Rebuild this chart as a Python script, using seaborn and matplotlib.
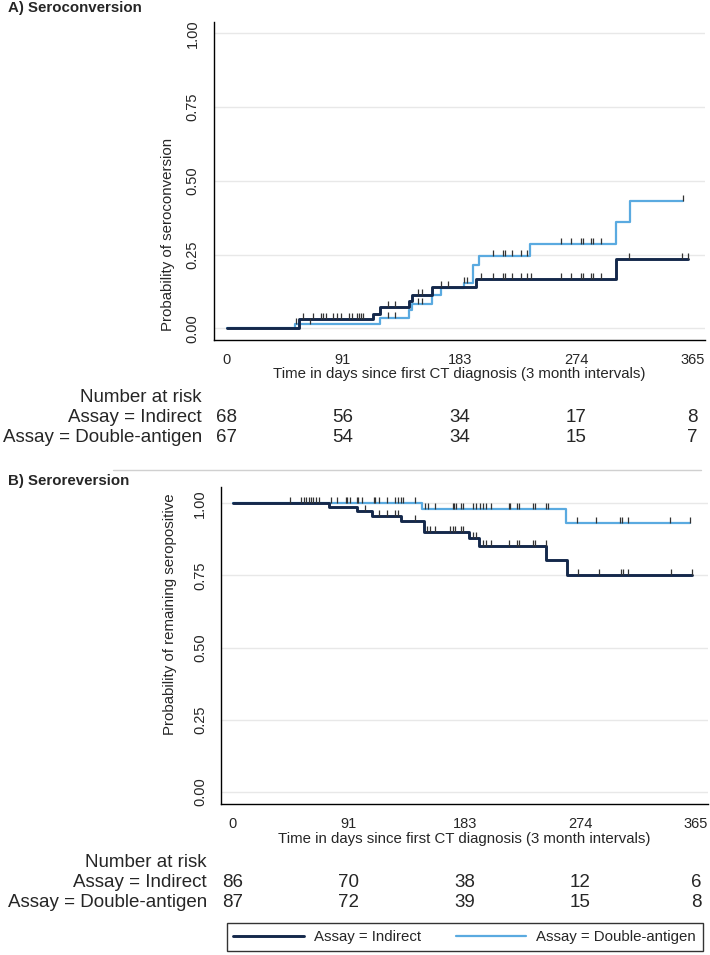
import numpy as np
import pandas as pd
import matplotlib
matplotlib.use("Agg")
import matplotlib.pyplot as plt
from matplotlib.path import Path
from matplotlib.transforms import blended_transform_factory
import seaborn as sns

# ---- data ----
grupos = ["Assay = Indirect", "Assay = Double-antigen"]
colores = {"Assay = Indirect": "#14284b", "Assay = Double-antigen": "#5aaae0"}
dias_ticks = [0, 91, 183, 274, 365]

# A) seroconversion (cumulative probability, step times in days)
a_ind_t = [0, 57, 115, 120.2, 143.2, 145.5, 161.2, 195.2, 305.2, 361.9]
a_ind_p = [0, 0.033, 0.0495, 0.072, 0.092, 0.113, 0.141, 0.167, 0.236, 0.236]
a_dbl_t = [0, 53.6, 120.2, 143.2, 145.5, 161.2, 168, 186, 193.4, 198, 237.8, 305.2, 316, 358]
a_dbl_p = [0, 0.016, 0.035, 0.062, 0.083, 0.113, 0.137, 0.152, 0.214, 0.245, 0.287, 0.36, 0.432, 0.432]
a_ind_cens = [59.6, 67.9, 73.9, 75.8, 77.9, 83.6, 86.2, 89.4, 96.2, 98, 101.9, 104, 105, 106.6,
              126.7, 132, 150.2, 152.8, 168, 173.8, 199.1, 209, 216.9, 218.2, 223.4, 230.5,
              235.7, 238.3, 261.8, 269.7, 277.5, 279.1, 285.3, 286.9, 293.2, 315.7, 356.7, 361.9]
a_dbl_cens = [54.4, 65.3, 126.7, 132, 150.2, 152.8, 186, 188.1, 209, 216.9, 218.2, 223.4,
              230.5, 235.7, 261.8, 269.7, 277.5, 279.1, 285.3, 286.9, 293.2, 358]
a_riesgo_ind = [68, 56, 34, 17, 8]
a_riesgo_dbl = [67, 54, 34, 15, 7]

# B) seroreversion (probability of remaining seropositive)
b_ind_t = [0, 75.5, 97.7, 109.7, 133, 150.5, 186, 194, 247, 263.4, 361.8]
b_ind_p = [1, 0.986, 0.973, 0.956, 0.938, 0.90, 0.878, 0.851, 0.804, 0.752, 0.752]
b_dbl_t = [0, 149.5, 263, 360.5]
b_dbl_p = [1, 0.982, 0.931, 0.931]
b_ind_cens = [104, 115.1, 121.6, 128.1, 130.2, 143.3, 152.9, 155.5, 159.4, 171.1, 173.2, 175,
              180.2, 181.5, 189.3, 191.9, 197.2, 199.3, 203.7, 217.5, 223.8, 225.8, 236.8,
              238.1, 246.7, 272, 288.4, 305.8, 307.9, 311.8, 345.7, 361.8]
b_dbl_cens = [45.3, 53.9, 56, 57.8, 60.4, 61.7, 63, 65.6, 67.7, 77.3, 82.5, 89, 90.4, 92.2,
              98.2, 99, 102.1, 111.2, 112, 115.1, 121.6, 128.1, 130.2, 132.8, 133.9, 143.3,
              151.6, 154.2, 159.4, 173.2, 174.5, 175.8, 180.2, 181.5, 189.3, 191.9, 194.6,
              197.2, 199.3, 203.7, 217.5, 218.6, 223.8, 225.8, 236.8, 238.1, 246.7, 248.5,
              271.4, 286.3, 305.3, 307.1, 311.3, 344.9, 360.5]
b_riesgo_ind = [86, 70, 38, 12, 6]
b_riesgo_dbl = [87, 72, 39, 15, 8]

W, H = 710, 955

sns.set_style("white")
plt.rcParams["font.family"] = ["Liberation Sans", "DejaVu Sans"]

fig = plt.figure(figsize=(W / 100, H / 100), dpi=100)


def caja(x0, y0, x1, y1):
    # pixel box (top-left origin) -> figure fraction
    return [x0 / W, 1 - y1 / H, (x1 - x0) / W, (y1 - y0) / H]


def fy(y):
    return 1 - y / H


marca = Path([(0, 0), (0, 1)], [Path.MOVETO, Path.LINETO])


def panel(ax, ind_t, ind_p, dbl_t, dbl_p, ind_c, dbl_c, xlim, ylim):
    df = pd.DataFrame({
        "t": ind_t + dbl_t,
        "p": ind_p + dbl_p,
        "assay": [grupos[0]] * len(ind_t) + [grupos[1]] * len(dbl_t),
    })
    ax.yaxis.grid(True, color="#e8e8e8", lw=1)
    ax.set_axisbelow(True)
    sns.lineplot(data=df[df.assay == grupos[1]], x="t", y="p", hue="assay", palette=colores,
                 estimator=None, drawstyle="steps-post", lw=1.6, ax=ax, zorder=3)
    sns.lineplot(data=df[df.assay == grupos[0]], x="t", y="p", hue="assay", palette=colores,
                 estimator=None, drawstyle="steps-post", lw=2.1, ax=ax, zorder=4)
    for tt, pp, cc in [(ind_t, ind_p, ind_c), (dbl_t, dbl_p, dbl_c)]:
        cc = np.array(cc)
        idx = np.searchsorted(np.array(tt), cc, side="right") - 1
        vals = np.array(pp)[idx]
        ax.plot(cc, vals, ls="none", marker=marca, ms=9, mew=0.9, color="#333333", zorder=5)
    ax.set_xlim(*xlim)
    ax.set_ylim(*ylim)
    ax.set_xticks(dias_ticks)
    ax.set_yticks([0, 0.25, 0.5, 0.75, 1.0])
    ax.set_yticklabels(["0.00", "0.25", "0.50", "0.75", "1.00"], rotation=90, va="center")
    ax.set_xlabel("")
    ax.set_ylabel("")
    ax.tick_params(axis="both", direction="out", length=5, width=1, color="black",
                   labelsize=10.5, pad=5)
    ax.tick_params(axis="x", pad=4)
    sns.despine(ax=ax)
    for s in ["left", "bottom"]:
        ax.spines[s].set_color("black")
        ax.spines[s].set_linewidth(1)
    if ax.get_legend():
        ax.get_legend().remove()


ax1 = fig.add_axes(caja(213.5, 22.5, 705, 340))
panel(ax1, a_ind_t, a_ind_p, a_dbl_t, a_dbl_p, a_ind_cens, a_dbl_cens,
      (-10.35, 375), (-0.0396, 1.037))
ax2 = fig.add_axes(caja(221, 486.7, 708, 804))
panel(ax2, b_ind_t, b_ind_p, b_dbl_t, b_dbl_p, b_ind_cens, b_dbl_cens,
      (-9.2, 374.5), (-0.0426, 1.0576))

# titles and axis labels
fig.text(8 / W, fy(8), "A) Seroconversion", fontsize=10.8, fontweight="bold", va="center")
fig.text(8 / W, fy(481), "B) Seroreversion", fontsize=10.8, fontweight="bold", va="center")
fig.text(168 / W, fy(234), "Probability of seroconversion", rotation=90, fontsize=10.8,
         ha="center", va="center")
fig.text(170 / W, fy(614), "Probability of remaining seropositive", rotation=90, fontsize=10.8,
         ha="center", va="center")
fig.text(459.5 / W, fy(374), "Time in days since first CT diagnosis (3 month intervals)",
         fontsize=10.8, ha="center", va="center")
fig.text(464.5 / W, fy(839), "Time in days since first CT diagnosis (3 month intervals)",
         fontsize=10.8, ha="center", va="center")

# number at risk tables
for ax, filas, yy, xr in [(ax1, [a_riesgo_ind, a_riesgo_dbl], [397, 417, 437], 202),
                          (ax2, [b_riesgo_ind, b_riesgo_dbl], [862, 882, 902], 207)]:
    fig.text(xr / W, fy(yy[0]), "Number at risk", fontsize=13.5, ha="right", va="center")
    tr = blended_transform_factory(ax.transData, fig.transFigure)
    for nombre, fila, y in zip(grupos, filas, yy[1:]):
        fig.text(xr / W, fy(y), nombre, fontsize=13.5, ha="right", va="center")
        for d, n in zip(dias_ticks, fila):
            ax.text(d, fy(y), str(n), transform=tr, fontsize=13.5, ha="center", va="center")

# grey separator line between panels
fig.add_artist(plt.Line2D([113 / W, 701 / W], [fy(470), fy(470)], color="#d0d0d0", lw=1))

# legend
handles = [plt.Line2D([], [], color=colores[g], lw=2.1 if i == 0 else 1.6)
           for i, g in enumerate(grupos)]
leg = fig.legend(handles, grupos, loc="center", ncol=2, mode="expand",
                 bbox_to_anchor=(226.7 / W, fy(954), (703 - 226.7) / W, 34 / H),
                 fontsize=10.8, frameon=True, fancybox=False, handlelength=4.7,
                 borderaxespad=0, borderpad=0.45, columnspacing=2.0, handletextpad=0.7)
leg.get_frame().set_edgecolor("black")
leg.get_frame().set_linewidth(1)

fig.savefig("out.png", dpi=100)
